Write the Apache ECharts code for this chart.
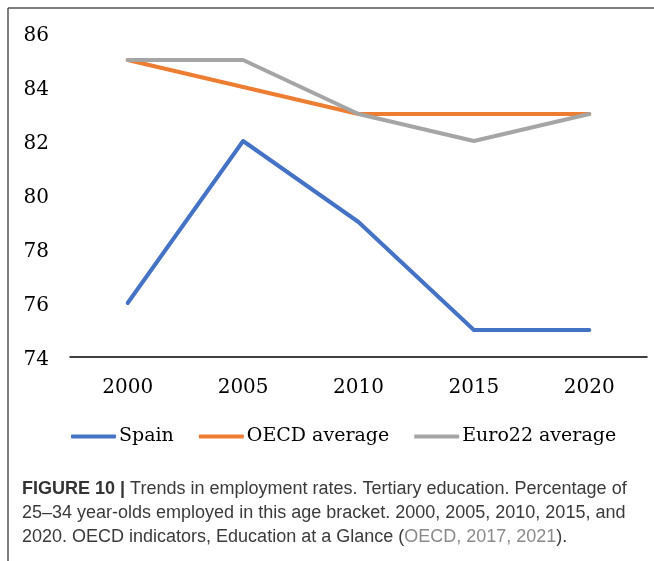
<!DOCTYPE html>
<html>
<head>
<meta charset="utf-8">
<script src="https://cdn.jsdelivr.net/npm/echarts@6/dist/echarts.min.js"></script>
<style>
  html, body { margin: 0; padding: 0; background: #fff; }
  #chart { width: 654px; height: 561px; }
</style>
</head>
<body>
<div id="chart"></div>
<script>
// data
const years = ['2000', '2005', '2010', '2015', '2020'];
const spain = [76, 82, 79, 75, 75];
const oecdAverage = [85, 84, 83, 83, 83];
const euro22Average = [85, 85, 83, 82, 83];

const serif = '"DejaVu Serif", "Liberation Serif", serif';
const sans = '"Liberation Sans", Arial, sans-serif';

const myChart = echarts.init(document.getElementById('chart'));

function lineSeries(name, data, color) {
  return {
    type: 'line',
    name: name,
    data: data,
    symbol: 'none',
    lineStyle: { width: 4, color: color, cap: 'round', join: 'round' },
    itemStyle: { color: color }
  };
}

const option = {
  animation: false,
  color: ['#4472C4', '#ED7D31', '#A5A5A5'],
  grid: { left: 70, right: 7, top: 33, height: 324 },
  xAxis: {
    type: 'category',
    data: years,
    axisLine: { lineStyle: { color: '#000', width: 1.5 } },
    axisTick: { show: false },
    axisLabel: { color: '#000', fontFamily: serif, fontSize: 20, margin: 21 }
  },
  yAxis: {
    type: 'value',
    min: 74,
    max: 86,
    interval: 2,
    axisLine: { show: false },
    axisTick: { show: false },
    splitLine: { show: false },
    axisLabel: { color: '#000', fontFamily: serif, fontSize: 20, margin: 21, lineHeight: 26, verticalAlign: 'top', padding: [-10, 0, 0, 0] }
  },
  legend: {
    top: 422,
    left: 66,
    itemWidth: 45,
    itemHeight: 4,
    itemGap: 25,
    icon: 'roundRect',
    textStyle: { color: '#000', fontFamily: serif, fontSize: 19, padding: [0, 0, 0, -2] },
    data: ['Spain', 'OECD average', 'Euro22 average']
  },
  graphic: [
    // frame
    { type: 'line', shape: { x1: 8, y1: 8, x2: 654, y2: 8 }, style: { stroke: '#555', lineWidth: 1.5 } },
    { type: 'line', shape: { x1: 8, y1: 8, x2: 8, y2: 561 }, style: { stroke: '#555', lineWidth: 1.5 } },
    // caption
    {
      type: 'text',
      left: 22,
      top: 477,
      style: {
        text: '{b|FIGURE 10 |} Trends in employment rates. Tertiary education. Percentage of\n' +
          '25\u201334 year-olds employed in this age bracket. 2000, 2005, 2010, 2015, and\n' +
          '2020. OECD indicators, Education at a Glance ({r|OECD, 2017, 2021}).',
        fontFamily: sans,
        fontSize: 18,
        lineHeight: 24,
        fill: '#3a3a3a',
        rich: {
          b: { fontFamily: sans, fontSize: 18, fontWeight: 'bold', fill: '#333', lineHeight: 24 },
          r: { fontFamily: sans, fontSize: 18, fill: '#8a8a8a', lineHeight: 24 }
        }
      }
    }
  ],
  series: [
    lineSeries('Spain', spain, '#4472C4'),
    lineSeries('OECD average', oecdAverage, '#ED7D31'),
    lineSeries('Euro22 average', euro22Average, '#A5A5A5')
  ]
};

myChart.setOption(option);
</script>
</body>
</html>
